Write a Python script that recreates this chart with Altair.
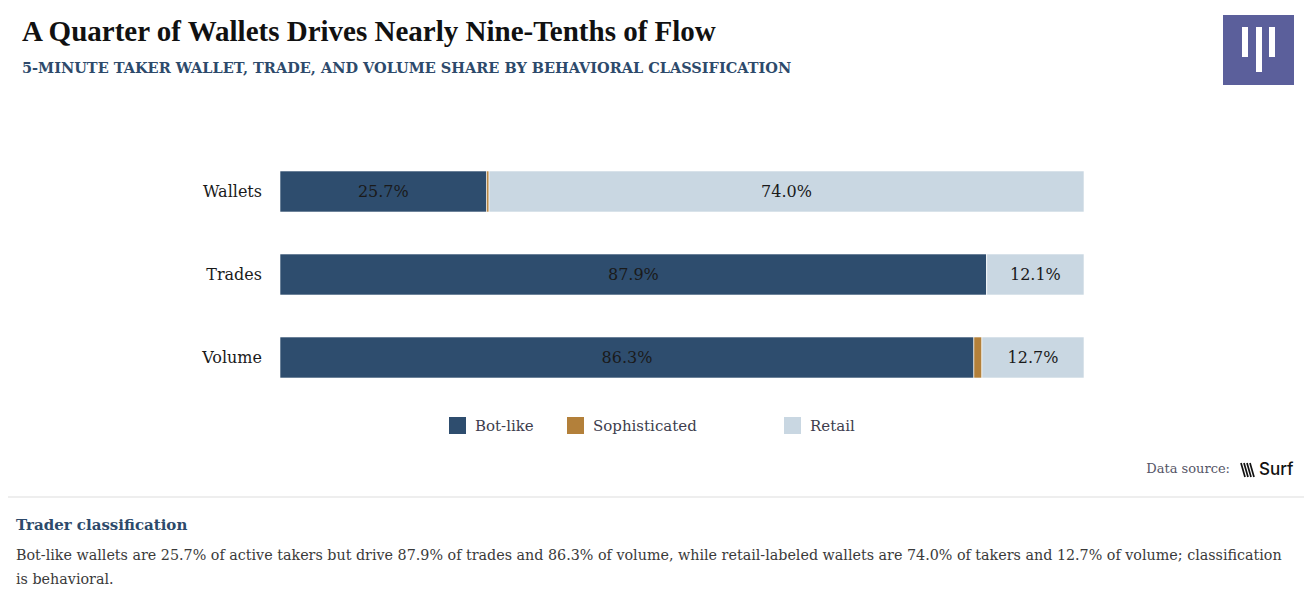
import altair as alt
import pandas as pd

# ---- data ----
metrics = ["Wallets", "Trades", "Volume"]
classes = ["Bot-like", "Sophisticated", "Retail"]
bot_like = [25.7, 87.9, 86.3]
sophisticated = [0.3, 0.0, 1.0]
retail = [74.0, 12.1, 12.7]
colors = ["#2e4d6e", "#b3803a", "#c9d7e2"]

rows = []
for i, m in enumerate(metrics):
    start = 0.0
    for c, vals in zip(classes, [bot_like, sophisticated, retail]):
        v = vals[i]
        rows.append({"metric": m, "cls": c, "value": v, "x0": start, "x1": start + v,
                     "mid": start + v / 2, "label": f"{v:.1f}%"})
        start += v
df = pd.DataFrame(rows)
labels_df = df[df["cls"] != "Sophisticated"]
metric_df = pd.DataFrame({"metric": metrics})
legend_df = pd.DataFrame({"cls": classes, "idx": list(range(len(classes)))})

SERIF = "DejaVu Serif"
W, H = 1296, 584

xscale = alt.Scale(domain=[0, 100], range=[272, 1076])
yscale = alt.Scale(domain=metrics, range=[142, 391], paddingInner=0.506, paddingOuter=0.253)
cscale = alt.Scale(domain=classes, range=colors)

bars = alt.Chart(df).mark_bar(stroke="#ffffff", strokeWidth=0.6).encode(
    x=alt.X("x0:Q", scale=xscale, axis=None),
    x2="x1:Q",
    y=alt.Y("metric:N", scale=yscale, axis=None),
    color=alt.Color("cls:N", scale=cscale, legend=None),
)

bar_labels = alt.Chart(labels_df).mark_text(
    font=SERIF, fontSize=16, color="#1a1a1a", baseline="middle", align="center"
).encode(
    x=alt.X("mid:Q", scale=xscale, axis=None),
    y=alt.Y("metric:N", scale=yscale, axis=None),
    text="label:N",
)

ylabels = alt.Chart(metric_df).mark_text(
    font=SERIF, fontSize=16, color="#1a1a1a", baseline="middle", align="right"
).encode(
    x=alt.value(254),
    y=alt.Y("metric:N", scale=yscale, axis=None),
    text="metric:N",
)

# legend laid out with a piecewise linear scale on the entry index
lxscale = alt.Scale(domain=[0, 1, 2], range=[449.5, 567.5, 784.5])
leg_sq = alt.Chart(legend_df).mark_square(size=289, opacity=1).encode(
    x=alt.X("idx:Q", scale=lxscale, axis=None),
    y=alt.value(417.5),
    color=alt.Color("cls:N", scale=cscale, legend=None),
)
leg_tx = alt.Chart(legend_df).mark_text(
    font=SERIF, fontSize=15, color="#3d3d4d", align="left", baseline="middle", dx=17.5
).encode(
    x=alt.X("idx:Q", scale=lxscale, axis=None),
    y=alt.value(417.5),
    text="cls:N",
)
legend = alt.layer(leg_sq, leg_tx)

def txt(text, x, y, **kw):
    return alt.Chart(pd.DataFrame({"t": [text]})).mark_text(**kw).encode(
        x=alt.value(x), y=alt.value(y), text="t:N")

def rect(x, x2, y, y2, color):
    return alt.Chart(pd.DataFrame({"a": [0]})).mark_rect(color=color).encode(
        x=alt.value(x), x2=alt.value(x2), y=alt.value(y), y2=alt.value(y2))

def rule(x, x2, y, y2, color, w):
    return alt.Chart(pd.DataFrame({"a": [0]})).mark_rule(color=color, strokeWidth=w).encode(
        x=alt.value(x), x2=alt.value(x2), y=alt.value(y), y2=alt.value(y2))

title = txt("A Quarter of Wallets Drives Nearly Nine-Tenths of Flow", 14, 33,
            font="Liberation Serif", fontSize=29, fontWeight="bold", color="#111111",
            align="left", baseline="alphabetic")
subtitle = txt("5-MINUTE TAKER WALLET, TRADE, AND VOLUME SHARE BY BEHAVIORAL CLASSIFICATION", 14, 65,
               font=SERIF, fontSize=14.5, fontWeight="bold", color="#2d4a6b",
               align="left", baseline="alphabetic")

logo = [
    rect(1215, 1286, 7, 77, "#5b5f9b"),
    rect(1234, 1240, 19, 49, "#ffffff"),
    rect(1248, 1254, 19, 64, "#ffffff"),
    rect(1261, 1267, 19, 49, "#ffffff"),
]

src = txt("Data source:", 1222, 461, font=SERIF, fontSize=13, color="#555566",
          align="right", baseline="middle")
surf = txt("Surf", 1251, 462, font="Inter", fontSize=17, fontWeight=500, color="#111111",
           align="left", baseline="middle")
icon = [rule(1233 + 3 * i, 1237 + 3 * i, 455, 469, "#111111", 1.7) for i in range(4)]

sep = rule(0, W, 489, 489, "#dddddd", 1)
ftitle = txt("Trader classification", 8, 522, font=SERIF, fontSize=15, fontWeight="bold",
             color="#2d4a6b", align="left", baseline="alphabetic")
body = txt("Bot-like wallets are 25.7% of active takers but drive 87.9% of trades and 86.3% of volume, "
           "while retail-labeled wallets are 74.0% of takers and 12.7% of volume; classification\nis behavioral.",
           8, 552, font=SERIF, fontSize=14.3, color="#3a3a3a", align="left", baseline="alphabetic",
           lineBreak="\n", lineHeight=24)

chart = alt.layer(
    bars, bar_labels, ylabels, legend, title, subtitle, *logo, src, surf, *icon,
    sep, ftitle, body
).resolve_scale(x="independent").properties(
    width=W, height=H, padding=0, autosize=alt.AutoSizeParams(type="none"), background="#ffffff"
).configure_view(strokeWidth=0)

chart.save("out.html", embed_options={"renderer": "svg", "actions": False})
